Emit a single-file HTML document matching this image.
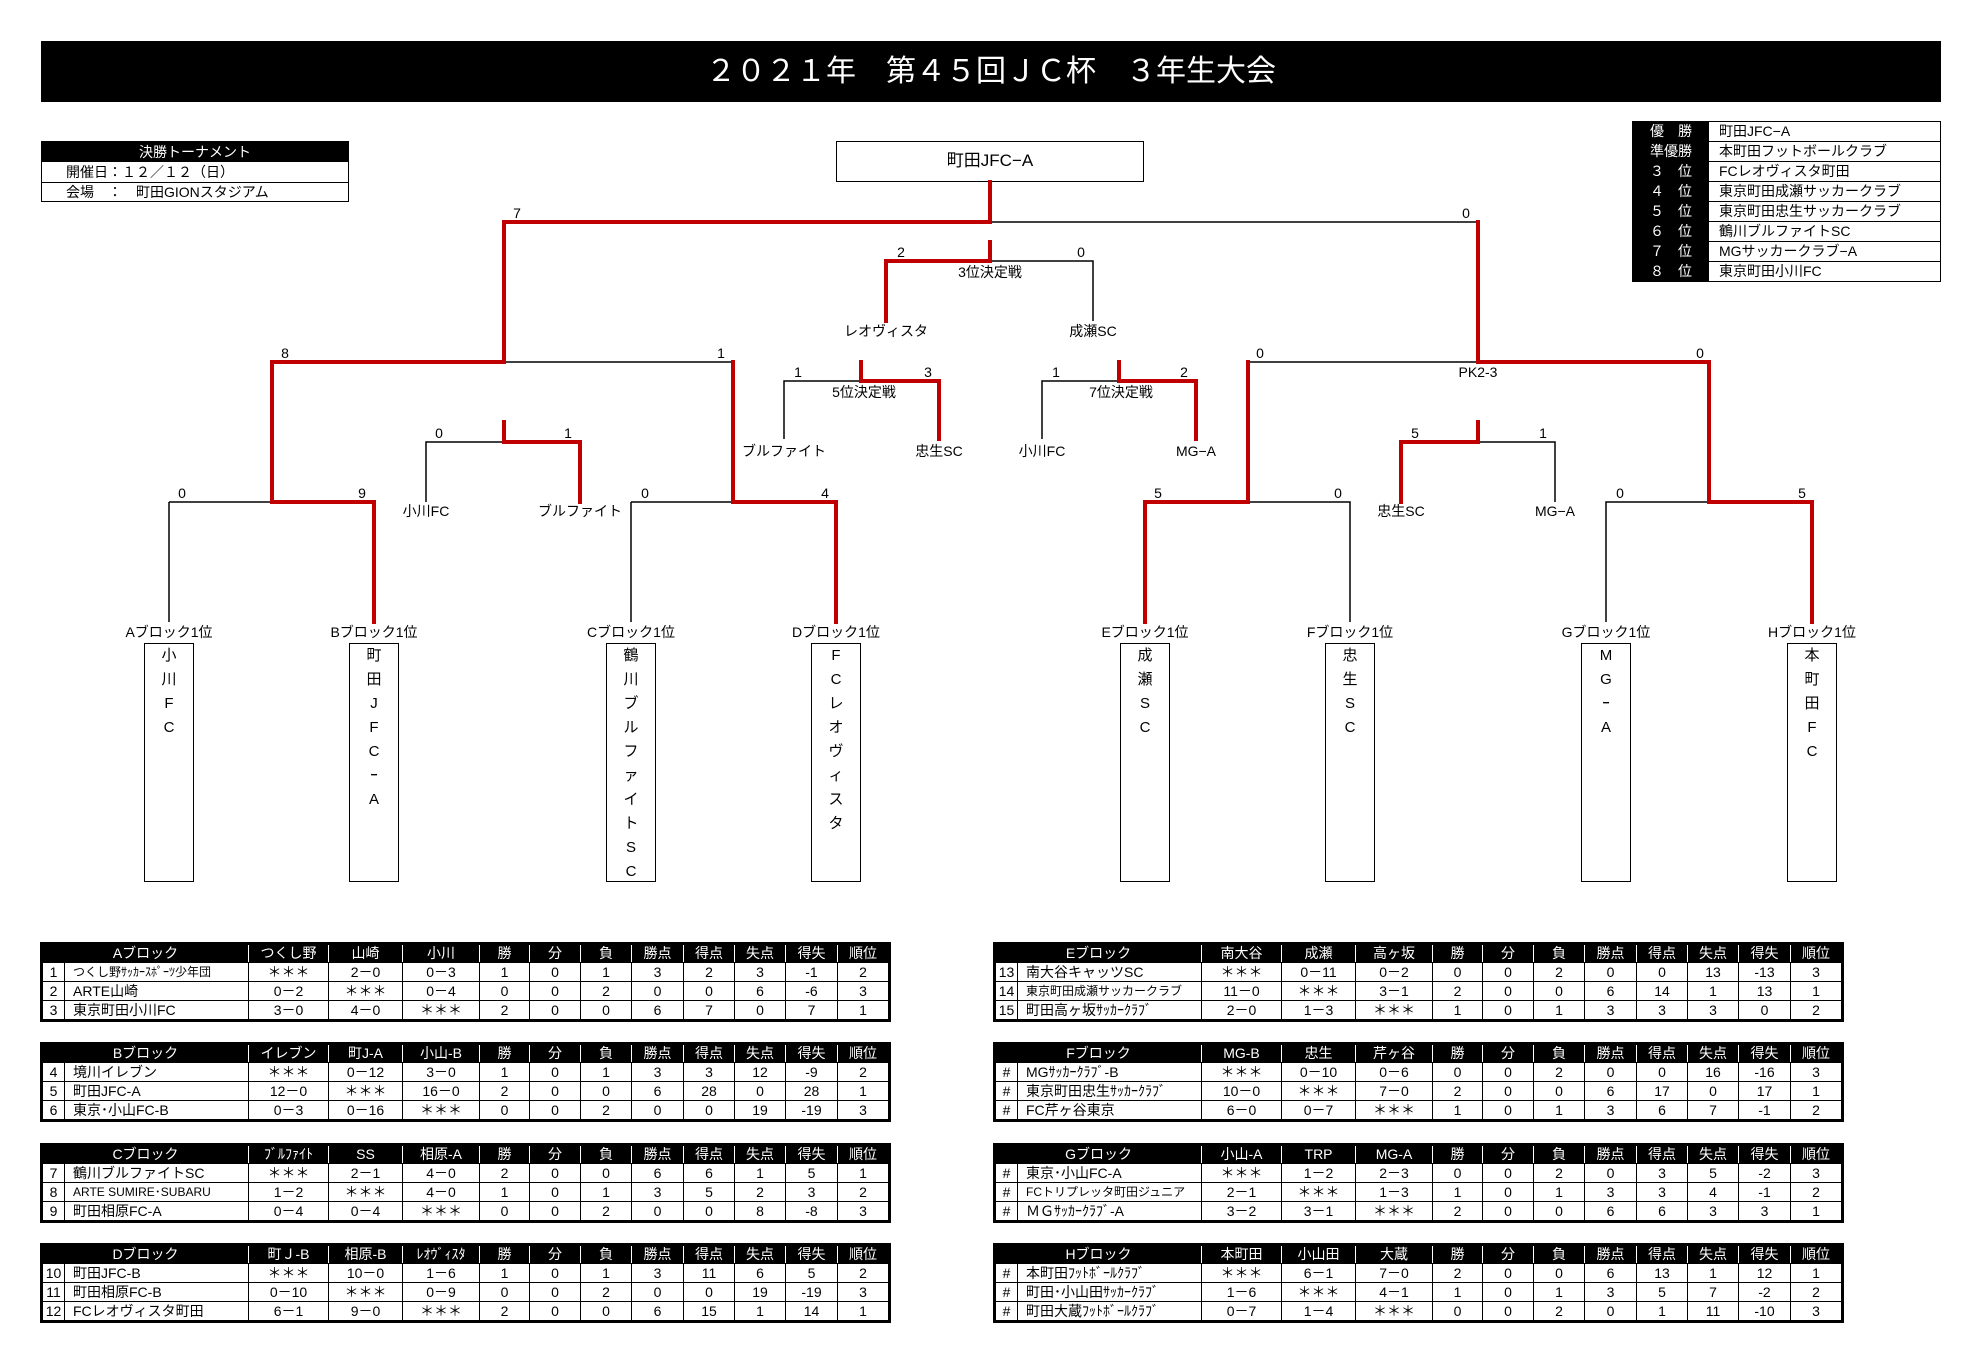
<!DOCTYPE html>
<html><head><meta charset="utf-8"><style>
body{margin:0;width:1965px;height:1362px;background:#fff;position:relative;overflow:hidden;font-family:"Liberation Sans Narrow","Liberation Sans","Noto Sans CJK JP",sans-serif;}
.abs{position:absolute}
table.t{position:absolute;border-collapse:collapse;table-layout:fixed;font-size:14px;border:3px solid #000}
table.t td{border:1px solid #000;height:18px;padding:0;text-align:center;white-space:nowrap;overflow:hidden;line-height:18px}
table.t tr.h td{background:#000;color:#fff;border-left:1px solid #fff;border-right:1px solid #fff;height:17px;line-height:17px}
table.t td.n{text-align:left;padding-left:8px}
table.t td.i{font-size:12px}
.vbox{position:absolute;top:643px;width:50px;height:239px;border:1.5px solid #000;box-sizing:border-box;text-align:center;font-size:15px;font-family:"Liberation Sans","Noto Sans CJK JP",sans-serif}
.vbox div{height:24px;line-height:24px}
.rk{position:absolute;left:1632px;width:309px;height:20px;box-sizing:border-box;border:1.5px solid #000;border-top:none;font-size:14px;line-height:19px}
.rk b{display:inline-block;width:76px;height:19px;background:#000;color:#fff;font-weight:normal;text-align:center;margin-right:10px}
</style></head><body>
<div class="abs" style="left:41px;top:41px;width:1900px;height:61px;background:#000;color:#fff;font-size:30px;line-height:61px;text-align:center;font-family:'Liberation Sans','Noto Sans CJK JP',sans-serif;">２０２１年　第４５回ＪＣ杯　３年生大会</div>

<div class="abs" style="left:41px;top:141px;width:308px;height:61px;border:1.5px solid #000;box-sizing:border-box;font-size:14px;">
<div style="background:#000;color:#fff;height:20px;line-height:20px;text-align:center">決勝トーナメント</div>
<div style="height:20px;line-height:20px;border-bottom:1px solid #000;padding-left:24px">開催日：１２／１２（日）</div>
<div style="height:19px;line-height:19px;padding-left:24px">会場　：　町田GIONスタジアム</div>
</div>

<div class="abs" style="left:836px;top:141px;width:308px;height:41px;border:1.5px solid #000;box-sizing:border-box;font-size:17px;line-height:38px;text-align:center;">町田JFC−A</div>

<div class="rk" style="top:121px;border-top:1.5px solid #000;height:21px"><b>優　勝</b>町田JFC−A</div>
<div class="rk" style="top:142px"><b>準優勝</b>本町田フットボールクラブ</div>
<div class="rk" style="top:162px"><b>３　位</b>FCレオヴィスタ町田</div>
<div class="rk" style="top:182px"><b>４　位</b>東京町田成瀬サッカークラブ</div>
<div class="rk" style="top:202px"><b>５　位</b>東京町田忠生サッカークラブ</div>
<div class="rk" style="top:222px"><b>６　位</b>鶴川ブルファイトSC</div>
<div class="rk" style="top:242px"><b>７　位</b>MGサッカークラブ−A</div>
<div class="rk" style="top:262px"><b>８　位</b>東京町田小川FC</div>

<svg class="abs" style="left:0;top:0" width="1965" height="1362" xmlns="http://www.w3.org/2000/svg">
<g stroke="#000" stroke-width="1.5" fill="none">
<path d="M990 222H1478M504 362H733M169 502H272M169 502V622M631 502H733M631 502V622M990 261H1093V321M784 439V381H861M1042 439V381H1119M426 502V442H504M1248 362H1478M1248 502H1350V622M1606 622V502H1709M1478 442H1555V502"/>
</g>
<g stroke="#c00000" stroke-width="4" fill="none" stroke-linecap="square">
<path d="M990 182V222H504V362M1478 222V362M272 502V362H504M733 362V502M272 502H374V622M733 502H836V622M990 242V261H886V321M861 362V381H939V439M1119 362V381H1196V439M504 422V442H580V502M1478 362H1709V502M1248 362V502H1145V622M1709 502H1812V622M1478 422V442H1401V502"/>
</g>
<g font-family="Liberation Sans Narrow,Liberation Sans,Noto Sans CJK JP,sans-serif" font-size="14" text-anchor="middle" fill="#000">
<text x="517" y="218">7</text><text x="1466" y="218">0</text>
<text x="285" y="358">8</text><text x="721" y="358">1</text><text x="1260" y="358">0</text><text x="1700" y="358">0</text>
<text x="1478" y="377">PK2-3</text>
<text x="182" y="498">0</text><text x="362" y="498">9</text><text x="645" y="498">0</text><text x="825" y="498">4</text>
<text x="1158" y="498">5</text><text x="1338" y="498">0</text><text x="1620" y="498">0</text><text x="1802" y="498">5</text>
<text x="901" y="257">2</text><text x="1081" y="257">0</text><text x="990" y="277">3位決定戦</text>
<text x="798" y="377">1</text><text x="928" y="377">3</text><text x="864" y="397">5位決定戦</text>
<text x="1056" y="377">1</text><text x="1184" y="377">2</text><text x="1121" y="397">7位決定戦</text>
<text x="439" y="438">0</text><text x="568" y="438">1</text><text x="1415" y="438">5</text><text x="1543" y="438">1</text>
<text x="886" y="336">レオヴィスタ</text><text x="1093" y="336">成瀬SC</text>
<text x="784" y="456">ブルファイト</text><text x="939" y="456">忠生SC</text><text x="1042" y="456">小川FC</text><text x="1196" y="456">MG−A</text>
<text x="426" y="516">小川FC</text><text x="580" y="516">ブルファイト</text><text x="1401" y="516">忠生SC</text><text x="1555" y="516">MG−A</text>
<text x="169" y="637">Aブロック1位</text><text x="374" y="637">Bブロック1位</text><text x="631" y="637">Cブロック1位</text><text x="836" y="637">Dブロック1位</text>
<text x="1145" y="637">Eブロック1位</text><text x="1350" y="637">Fブロック1位</text><text x="1606" y="637">Gブロック1位</text><text x="1812" y="637">Hブロック1位</text>
</g>
</svg>

<div class="vbox" style="left:144px"><div>小</div><div>川</div><div>F</div><div>C</div></div>
<div class="vbox" style="left:349px"><div>町</div><div>田</div><div>J</div><div>F</div><div>C</div><div>ｰ</div><div>A</div></div>
<div class="vbox" style="left:606px"><div>鶴</div><div>川</div><div>ブ</div><div>ル</div><div>フ</div><div>ァ</div><div>イ</div><div>ト</div><div>S</div><div>C</div></div>
<div class="vbox" style="left:811px"><div>F</div><div>C</div><div>レ</div><div>オ</div><div>ヴ</div><div>ィ</div><div>ス</div><div>タ</div></div>
<div class="vbox" style="left:1120px"><div>成</div><div>瀬</div><div>S</div><div>C</div></div>
<div class="vbox" style="left:1325px"><div>忠</div><div>生</div><div>S</div><div>C</div></div>
<div class="vbox" style="left:1581px"><div>M</div><div>G</div><div>ｰ</div><div>A</div></div>
<div class="vbox" style="left:1787px"><div>本</div><div>町</div><div>田</div><div>F</div><div>C</div></div>

<!-- LEFT TABLES -->
<table class="t" style="left:40px;top:942px;width:849px"><colgroup><col style="width:23px"><col style="width:184px"><col style="width:80px"><col style="width:74px"><col style="width:77px"><col style="width:50px"><col style="width:51px"><col style="width:51px"><col style="width:52px"><col style="width:51px"><col style="width:51px"><col style="width:52px"><col style="width:52px"></colgroup>
<tr class="h"><td colspan="2">Aブロック</td><td>つくし野</td><td>山崎</td><td>小川</td><td>勝</td><td>分</td><td>負</td><td>勝点</td><td>得点</td><td>失点</td><td>得失</td><td>順位</td></tr>
<tr><td>1</td><td class="n i">つくし野ｻｯｶｰｽﾎﾟｰﾂ少年団</td><td>＊＊＊</td><td>2－0</td><td>0－3</td><td>1</td><td>0</td><td>1</td><td>3</td><td>2</td><td>3</td><td>-1</td><td>2</td></tr>
<tr><td>2</td><td class="n">ARTE山崎</td><td>0－2</td><td>＊＊＊</td><td>0－4</td><td>0</td><td>0</td><td>2</td><td>0</td><td>0</td><td>6</td><td>-6</td><td>3</td></tr>
<tr><td>3</td><td class="n">東京町田小川FC</td><td>3－0</td><td>4－0</td><td>＊＊＊</td><td>2</td><td>0</td><td>0</td><td>6</td><td>7</td><td>0</td><td>7</td><td>1</td></tr>
</table>
<table class="t" style="left:40px;top:1042px;width:849px"><colgroup><col style="width:23px"><col style="width:184px"><col style="width:80px"><col style="width:74px"><col style="width:77px"><col style="width:50px"><col style="width:51px"><col style="width:51px"><col style="width:52px"><col style="width:51px"><col style="width:51px"><col style="width:52px"><col style="width:52px"></colgroup>
<tr class="h"><td colspan="2">Bブロック</td><td>イレブン</td><td>町J-A</td><td>小山-B</td><td>勝</td><td>分</td><td>負</td><td>勝点</td><td>得点</td><td>失点</td><td>得失</td><td>順位</td></tr>
<tr><td>4</td><td class="n">境川イレブン</td><td>＊＊＊</td><td>0－12</td><td>3－0</td><td>1</td><td>0</td><td>1</td><td>3</td><td>3</td><td>12</td><td>-9</td><td>2</td></tr>
<tr><td>5</td><td class="n">町田JFC-A</td><td>12－0</td><td>＊＊＊</td><td>16－0</td><td>2</td><td>0</td><td>0</td><td>6</td><td>28</td><td>0</td><td>28</td><td>1</td></tr>
<tr><td>6</td><td class="n">東京･小山FC-B</td><td>0－3</td><td>0－16</td><td>＊＊＊</td><td>0</td><td>0</td><td>2</td><td>0</td><td>0</td><td>19</td><td>-19</td><td>3</td></tr>
</table>
<table class="t" style="left:40px;top:1143px;width:849px"><colgroup><col style="width:23px"><col style="width:184px"><col style="width:80px"><col style="width:74px"><col style="width:77px"><col style="width:50px"><col style="width:51px"><col style="width:51px"><col style="width:52px"><col style="width:51px"><col style="width:51px"><col style="width:52px"><col style="width:52px"></colgroup>
<tr class="h"><td colspan="2">Cブロック</td><td>ﾌﾞﾙﾌｧｲﾄ</td><td>SS</td><td>相原-A</td><td>勝</td><td>分</td><td>負</td><td>勝点</td><td>得点</td><td>失点</td><td>得失</td><td>順位</td></tr>
<tr><td>7</td><td class="n">鶴川ブルファイトSC</td><td>＊＊＊</td><td>2－1</td><td>4－0</td><td>2</td><td>0</td><td>0</td><td>6</td><td>6</td><td>1</td><td>5</td><td>1</td></tr>
<tr><td>8</td><td class="n i">ARTE SUMIRE･SUBARU</td><td>1－2</td><td>＊＊＊</td><td>4－0</td><td>1</td><td>0</td><td>1</td><td>3</td><td>5</td><td>2</td><td>3</td><td>2</td></tr>
<tr><td>9</td><td class="n">町田相原FC-A</td><td>0－4</td><td>0－4</td><td>＊＊＊</td><td>0</td><td>0</td><td>2</td><td>0</td><td>0</td><td>8</td><td>-8</td><td>3</td></tr>
</table>
<table class="t" style="left:40px;top:1243px;width:849px"><colgroup><col style="width:23px"><col style="width:184px"><col style="width:80px"><col style="width:74px"><col style="width:77px"><col style="width:50px"><col style="width:51px"><col style="width:51px"><col style="width:52px"><col style="width:51px"><col style="width:51px"><col style="width:52px"><col style="width:52px"></colgroup>
<tr class="h"><td colspan="2">Dブロック</td><td>町Ｊ-B</td><td>相原-B</td><td>ﾚｵｳﾞｨｽﾀ</td><td>勝</td><td>分</td><td>負</td><td>勝点</td><td>得点</td><td>失点</td><td>得失</td><td>順位</td></tr>
<tr><td>10</td><td class="n">町田JFC-B</td><td>＊＊＊</td><td>10－0</td><td>1－6</td><td>1</td><td>0</td><td>1</td><td>3</td><td>11</td><td>6</td><td>5</td><td>2</td></tr>
<tr><td>11</td><td class="n">町田相原FC-B</td><td>0－10</td><td>＊＊＊</td><td>0－9</td><td>0</td><td>0</td><td>2</td><td>0</td><td>0</td><td>19</td><td>-19</td><td>3</td></tr>
<tr><td>12</td><td class="n">FCレオヴィスタ町田</td><td>6－1</td><td>9－0</td><td>＊＊＊</td><td>2</td><td>0</td><td>0</td><td>6</td><td>15</td><td>1</td><td>14</td><td>1</td></tr>
</table>

<!-- RIGHT TABLES -->
<table class="t" style="left:993px;top:942px;width:849px"><colgroup><col style="width:23px"><col style="width:184px"><col style="width:80px"><col style="width:74px"><col style="width:77px"><col style="width:50px"><col style="width:51px"><col style="width:51px"><col style="width:52px"><col style="width:51px"><col style="width:51px"><col style="width:52px"><col style="width:52px"></colgroup>
<tr class="h"><td colspan="2">Eブロック</td><td>南大谷</td><td>成瀬</td><td>高ヶ坂</td><td>勝</td><td>分</td><td>負</td><td>勝点</td><td>得点</td><td>失点</td><td>得失</td><td>順位</td></tr>
<tr><td>13</td><td class="n">南大谷キャッツSC</td><td>＊＊＊</td><td>0－11</td><td>0－2</td><td>0</td><td>0</td><td>2</td><td>0</td><td>0</td><td>13</td><td>-13</td><td>3</td></tr>
<tr><td>14</td><td class="n i">東京町田成瀬サッカークラブ</td><td>11－0</td><td>＊＊＊</td><td>3－1</td><td>2</td><td>0</td><td>0</td><td>6</td><td>14</td><td>1</td><td>13</td><td>1</td></tr>
<tr><td>15</td><td class="n">町田高ヶ坂ｻｯｶｰｸﾗﾌﾞ</td><td>2－0</td><td>1－3</td><td>＊＊＊</td><td>1</td><td>0</td><td>1</td><td>3</td><td>3</td><td>3</td><td>0</td><td>2</td></tr>
</table>
<table class="t" style="left:993px;top:1042px;width:849px"><colgroup><col style="width:23px"><col style="width:184px"><col style="width:80px"><col style="width:74px"><col style="width:77px"><col style="width:50px"><col style="width:51px"><col style="width:51px"><col style="width:52px"><col style="width:51px"><col style="width:51px"><col style="width:52px"><col style="width:52px"></colgroup>
<tr class="h"><td colspan="2">Fブロック</td><td>MG-B</td><td>忠生</td><td>芹ヶ谷</td><td>勝</td><td>分</td><td>負</td><td>勝点</td><td>得点</td><td>失点</td><td>得失</td><td>順位</td></tr>
<tr><td>#</td><td class="n">MGｻｯｶｰｸﾗﾌﾞ-B</td><td>＊＊＊</td><td>0－10</td><td>0－6</td><td>0</td><td>0</td><td>2</td><td>0</td><td>0</td><td>16</td><td>-16</td><td>3</td></tr>
<tr><td>#</td><td class="n">東京町田忠生ｻｯｶｰｸﾗﾌﾞ</td><td>10－0</td><td>＊＊＊</td><td>7－0</td><td>2</td><td>0</td><td>0</td><td>6</td><td>17</td><td>0</td><td>17</td><td>1</td></tr>
<tr><td>#</td><td class="n">FC芹ヶ谷東京</td><td>6－0</td><td>0－7</td><td>＊＊＊</td><td>1</td><td>0</td><td>1</td><td>3</td><td>6</td><td>7</td><td>-1</td><td>2</td></tr>
</table>
<table class="t" style="left:993px;top:1143px;width:849px"><colgroup><col style="width:23px"><col style="width:184px"><col style="width:80px"><col style="width:74px"><col style="width:77px"><col style="width:50px"><col style="width:51px"><col style="width:51px"><col style="width:52px"><col style="width:51px"><col style="width:51px"><col style="width:52px"><col style="width:52px"></colgroup>
<tr class="h"><td colspan="2">Gブロック</td><td>小山-A</td><td>TRP</td><td>MG-A</td><td>勝</td><td>分</td><td>負</td><td>勝点</td><td>得点</td><td>失点</td><td>得失</td><td>順位</td></tr>
<tr><td>#</td><td class="n">東京･小山FC-A</td><td>＊＊＊</td><td>1－2</td><td>2－3</td><td>0</td><td>0</td><td>2</td><td>0</td><td>3</td><td>5</td><td>-2</td><td>3</td></tr>
<tr><td>#</td><td class="n i">FCトリプレッタ町田ジュニア</td><td>2－1</td><td>＊＊＊</td><td>1－3</td><td>1</td><td>0</td><td>1</td><td>3</td><td>3</td><td>4</td><td>-1</td><td>2</td></tr>
<tr><td>#</td><td class="n">ＭＧｻｯｶｰｸﾗﾌﾞ-A</td><td>3－2</td><td>3－1</td><td>＊＊＊</td><td>2</td><td>0</td><td>0</td><td>6</td><td>6</td><td>3</td><td>3</td><td>1</td></tr>
</table>
<table class="t" style="left:993px;top:1243px;width:849px"><colgroup><col style="width:23px"><col style="width:184px"><col style="width:80px"><col style="width:74px"><col style="width:77px"><col style="width:50px"><col style="width:51px"><col style="width:51px"><col style="width:52px"><col style="width:51px"><col style="width:51px"><col style="width:52px"><col style="width:52px"></colgroup>
<tr class="h"><td colspan="2">Hブロック</td><td>本町田</td><td>小山田</td><td>大蔵</td><td>勝</td><td>分</td><td>負</td><td>勝点</td><td>得点</td><td>失点</td><td>得失</td><td>順位</td></tr>
<tr><td>#</td><td class="n">本町田ﾌｯﾄﾎﾞｰﾙｸﾗﾌﾞ</td><td>＊＊＊</td><td>6－1</td><td>7－0</td><td>2</td><td>0</td><td>0</td><td>6</td><td>13</td><td>1</td><td>12</td><td>1</td></tr>
<tr><td>#</td><td class="n">町田･小山田ｻｯｶｰｸﾗﾌﾞ</td><td>1－6</td><td>＊＊＊</td><td>4－1</td><td>1</td><td>0</td><td>1</td><td>3</td><td>5</td><td>7</td><td>-2</td><td>2</td></tr>
<tr><td>#</td><td class="n">町田大蔵ﾌｯﾄﾎﾞｰﾙｸﾗﾌﾞ</td><td>0－7</td><td>1－4</td><td>＊＊＊</td><td>0</td><td>0</td><td>2</td><td>0</td><td>1</td><td>11</td><td>-10</td><td>3</td></tr>
</table>
</body></html>
